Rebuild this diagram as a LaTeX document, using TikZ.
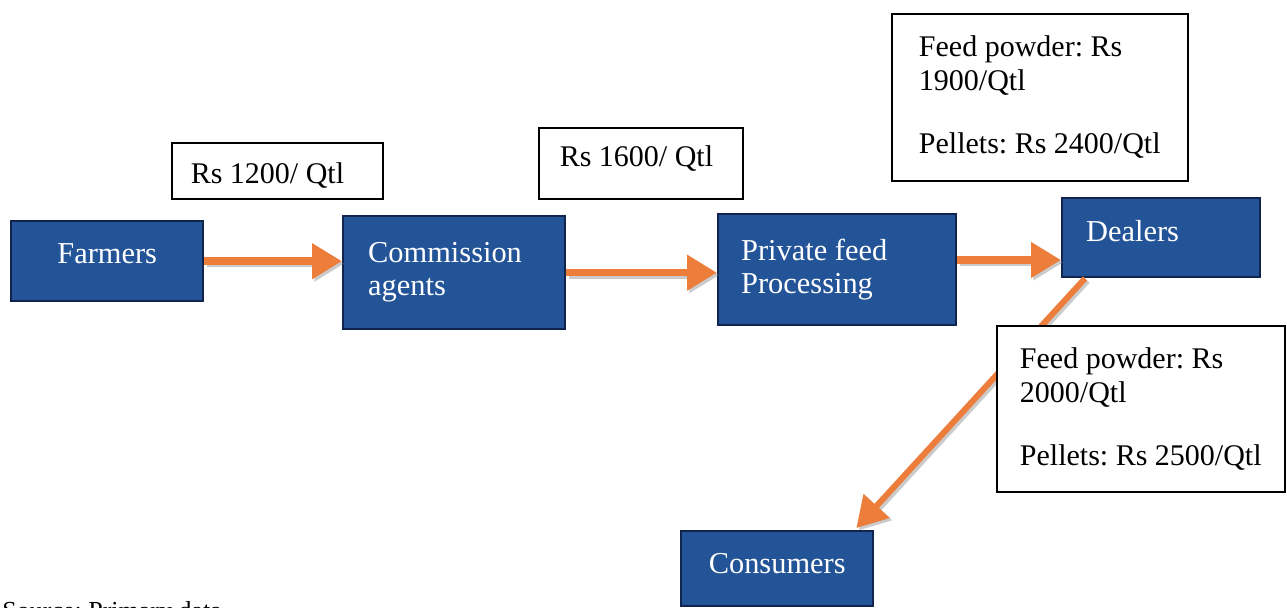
\documentclass[tikz,border=0pt]{standalone}
\usepackage{fontspec}
\setmainfont{Liberation Serif}
\usetikzlibrary{arrows.meta,calc}
\definecolor{boxblue}{RGB}{36,84,152}
\definecolor{boxedge}{RGB}{16,36,78}
\definecolor{flow}{RGB}{236,125,58}
\frenchspacing
\begin{document}
\begin{tikzpicture}[x=0.5pt,y=-0.5pt,
  actor/.style={draw=boxedge, line width=1.2pt, fill=boxblue, text=white,
    font=\fontsize{15.2}{16.5}\selectfont, inner ysep=0pt, anchor=north west},
  price/.style={draw=black, line width=0.8pt, fill=white, align=flush left,
    font=\fontsize{15}{17}\selectfont, inner ysep=0pt, anchor=north west},
  flowarrow/.style={draw=flow, line width=3.8pt,
    -{Triangle[length=15pt,width=17pt]}},
  flowshadow/.style={draw=black!45, opacity=0.45, line width=3.8pt,
    -{Triangle[length=15pt,width=17pt]},
    transform canvas={shift={(1.2pt,-1.2pt)}}}
]
\clip (0,0) rectangle (1287,608);

% supply chain actors
\node[actor, minimum width=96pt, text height=21pt, text depth=19pt, align=center]
  (farmers) at (10,220) {Farmers};
\node[actor, inner xsep=12.5pt, text width=86pt, minimum height=56.5pt, align=flush left]
  (commission) at (342,215) {Commission\\agents};
\node[actor, inner xsep=11.5pt, text width=96pt, minimum height=55.5pt, align=flush left]
  (private) at (717,213) {Private feed\\Processing};
\node[actor, inner xsep=12pt, text width=75pt, text height=21.5pt, text depth=18pt, align=flush left]
  (dealers) at (1061,197) {Dealers};
\node[actor, minimum width=96pt, text height=21pt, text depth=16.5pt, align=center]
  (consumers) at (680,530) {Consumers};

% flow arrows
\coordinate (row) at (0,260);
\coordinate (dstart) at ($(dealers.south west)+(24,0)$);
\coordinate (dend) at ($(consumers.north east)+(-18,-2)$);
\foreach \s in {flowshadow, flowarrow} {
  \draw[\s] (farmers.east) -- (farmers.east -| commission.west);
  \draw[\s] (commission.east) -- (commission.east -| private.west);
  \draw[\s] (private.east |- row) -- (dealers.west |- row);
}
\draw[flowshadow, line width=3pt] (dstart) -- (dend);
\draw[flowarrow, line width=3pt] (dstart) -- (dend);

% price boxes
\node[price, inner xsep=9.5pt, text width=86.5pt, text height=20.5pt, text depth=7.5pt]
  (p1) at (171,142) {Rs 1200/ Qtl};
\node[price, inner xsep=10.5pt, text width=81pt, text height=19.5pt, text depth=16pt]
  (p2) at (538,127) {Rs 1600/ Qtl};
\node[price, minimum width=148pt, minimum height=83.5pt]
  (p3) at (891,13) {Feed powder: Rs\\1900/Qtl\\[14.5pt]Pellets: Rs 2400/Qtl};
\node[price, minimum width=144pt, minimum height=83pt]
  (p4) at (996,325) {Feed powder: Rs\\2000/Qtl\\[14.5pt]Pellets: Rs 2500/Qtl};

% data source note
\node[anchor=base west, inner sep=0pt, font=\fontsize{13}{15}\selectfont]
  (source) at (2,620) {Source: Primary data};
\end{tikzpicture}
\end{document}
